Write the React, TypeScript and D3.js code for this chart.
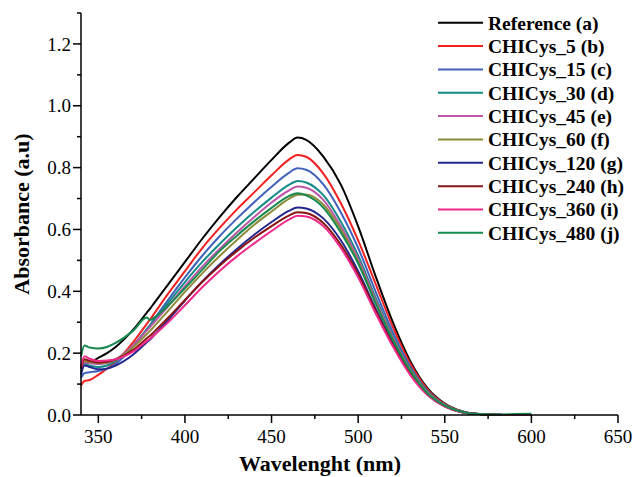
import React from "react";
import * as d3 from "d3";

const wavelengths = [340, 342, 345, 350, 355, 360, 370, 378, 380, 382, 390, 400, 410, 420, 430, 440, 450, 460, 465, 470, 480, 490, 500, 510, 520, 530, 540, 550, 560, 570, 580, 590, 600];

const seriesNames = ["Reference (a)", "CHICys_5 (b)", "CHICys_15 (c)", "CHICys_30 (d)", "CHICys_45 (e)", "CHICys_60 (f)", "CHICys_120 (g)", "CHICys_240 (h)", "CHICys_360 (i)", "CHICys_480 (j)"];
const seriesColors = ["#000000", "#f42020", "#4062bc", "#138a88", "#bd56a8", "#8c8a38", "#23268c", "#881414", "#f2288a", "#168a4e"];

const refA = [0.16, 0.17, 0.17, 0.185, 0.2, 0.22, 0.275, 0.331, 0.345, 0.36, 0.42, 0.495, 0.57, 0.64, 0.705, 0.765, 0.825, 0.88, 0.897, 0.89, 0.835, 0.745, 0.61, 0.45, 0.3, 0.175, 0.087, 0.037, 0.012, 0.003, 0.001, 0, 0];
const cys5 = [0.095, 0.11, 0.113, 0.13, 0.15, 0.172, 0.235, 0.295, 0.31, 0.326, 0.39, 0.465, 0.54, 0.605, 0.665, 0.72, 0.775, 0.826, 0.841, 0.835, 0.78, 0.685, 0.565, 0.425, 0.285, 0.167, 0.083, 0.035, 0.011, 0.003, 0.001, 0, 0];
const cys15 = [0.12, 0.135, 0.138, 0.142, 0.15, 0.165, 0.22, 0.278, 0.292, 0.308, 0.37, 0.445, 0.515, 0.578, 0.635, 0.688, 0.738, 0.783, 0.798, 0.793, 0.745, 0.655, 0.54, 0.4, 0.268, 0.157, 0.078, 0.033, 0.011, 0.003, 0.001, 0, 0];
const cys30 = [0.14, 0.165, 0.16, 0.155, 0.16, 0.175, 0.225, 0.277, 0.29, 0.304, 0.36, 0.43, 0.495, 0.553, 0.607, 0.657, 0.703, 0.744, 0.757, 0.752, 0.71, 0.625, 0.515, 0.38, 0.255, 0.15, 0.075, 0.032, 0.01, 0.003, 0.001, 0, 0];
const cys45 = [0.15, 0.17, 0.168, 0.165, 0.168, 0.18, 0.225, 0.273, 0.285, 0.298, 0.35, 0.417, 0.48, 0.537, 0.59, 0.64, 0.687, 0.726, 0.739, 0.735, 0.695, 0.61, 0.505, 0.372, 0.25, 0.147, 0.073, 0.031, 0.01, 0.003, 0.001, 0, 0];
const cys60 = [0.15, 0.175, 0.172, 0.168, 0.17, 0.18, 0.218, 0.262, 0.273, 0.285, 0.335, 0.398, 0.458, 0.514, 0.566, 0.615, 0.658, 0.699, 0.712, 0.713, 0.68, 0.6, 0.495, 0.365, 0.245, 0.145, 0.072, 0.031, 0.01, 0.003, 0.001, 0, 0];
const cys120 = [0.13, 0.16, 0.155, 0.148, 0.15, 0.16, 0.195, 0.235, 0.245, 0.257, 0.305, 0.37, 0.432, 0.487, 0.537, 0.583, 0.624, 0.66, 0.671, 0.668, 0.635, 0.565, 0.465, 0.345, 0.232, 0.137, 0.068, 0.029, 0.009, 0.003, 0.001, 0, 0];
const cys240 = [0.15, 0.18, 0.175, 0.17, 0.172, 0.18, 0.21, 0.248, 0.257, 0.268, 0.313, 0.372, 0.43, 0.483, 0.53, 0.573, 0.611, 0.645, 0.656, 0.653, 0.62, 0.55, 0.455, 0.338, 0.227, 0.134, 0.066, 0.028, 0.009, 0.003, 0.001, 0, 0];
const cys360 = [0.155, 0.19, 0.182, 0.175, 0.176, 0.18, 0.205, 0.239, 0.247, 0.257, 0.298, 0.355, 0.413, 0.466, 0.513, 0.555, 0.595, 0.632, 0.644, 0.642, 0.61, 0.54, 0.445, 0.33, 0.222, 0.13, 0.065, 0.027, 0.009, 0.003, 0.001, 0, 0];
const cys480 = [0.19, 0.225, 0.218, 0.215, 0.22, 0.233, 0.272, 0.315, 0.307, 0.314, 0.352, 0.41, 0.47, 0.53, 0.58, 0.627, 0.67, 0.708, 0.717, 0.71, 0.67, 0.59, 0.49, 0.362, 0.243, 0.143, 0.07, 0.03, 0.01, 0.003, 0.002, 0.003, 0.004];

const seriesValues = [refA, cys5, cys15, cys30, cys45, cys60, cys120, cys240, cys360, cys480];

const xMajorTicks = [350, 400, 450, 500, 550, 600, 650];
const xMinorTicks = [375, 425, 475, 525, 575, 625];
const yMajorTicks = [0, 0.2, 0.4, 0.6, 0.8, 1.0, 1.2];
const yMinorTicks = [0.1, 0.3, 0.5, 0.7, 0.9, 1.1, 1.3];

const FONT = "'Liberation Serif', 'Times New Roman', Times, serif";

export default function App() {
  const W = 633, H = 477;
  const x = d3.scaleLinear().domain([340, 650]).range([81, 618]);
  const y = d3.scaleLinear().domain([0, 1.3]).range([415, 13]);
  const line = d3
    .line<number>()
    .x((_, i) => x(wavelengths[i]))
    .y((d) => y(d))
    .curve(d3.curveMonotoneX);

  const legendX = 438;
  const legendY0 = 22.7;
  const legendDy = 23.35;

  return (
    <svg width={W} height={H} style={{ position: "absolute", left: 0, top: 0, background: "#fff" }} fontFamily={FONT}>
      <rect x={0} y={0} width={W} height={H} fill="#fff" />
      {seriesValues.map((vals, k) => (
        <path key={k} d={line(vals) || ""} fill="none" stroke={seriesColors[k]} strokeWidth={2} strokeLinejoin="round" />
      ))}
      <line x1={x(340)} x2={x(650)} y1={y(0)} y2={y(0)} stroke="#000" strokeWidth={1.5} />
      <line x1={x(340)} x2={x(340)} y1={y(0)} y2={y(1.3)} stroke="#000" strokeWidth={1.5} />
      {xMajorTicks.map((t) => (
        <g key={"xm" + t}>
          <line x1={x(t)} x2={x(t)} y1={y(0)} y2={y(0) + 8} stroke="#000" strokeWidth={1.5} />
          <text x={x(t)} y={y(0) + 28} textAnchor="middle" fontSize={19}>{t}</text>
        </g>
      ))}
      {xMinorTicks.map((t) => (
        <line key={"xn" + t} x1={x(t)} x2={x(t)} y1={y(0)} y2={y(0) + 4} stroke="#000" strokeWidth={1.5} />
      ))}
      {yMajorTicks.map((t) => (
        <g key={"ym" + t}>
          <line x1={x(340) - 8} x2={x(340)} y1={y(t)} y2={y(t)} stroke="#000" strokeWidth={1.5} />
          <text x={x(340) - 10} y={y(t)} dy="0.35em" textAnchor="end" fontSize={19}>{t.toFixed(1)}</text>
        </g>
      ))}
      {yMinorTicks.map((t) => (
        <line key={"yn" + t} x1={x(340) - 4} x2={x(340)} y1={y(t)} y2={y(t)} stroke="#000" strokeWidth={1.5} />
      ))}
      <text x={320} y={471} textAnchor="middle" fontSize={22} fontWeight="bold">Wavelenght (nm)</text>
      <text transform={`translate(29,${(y(0) + y(1.3)) / 2}) rotate(-90)`} textAnchor="middle" fontSize={22} fontWeight="bold">Absorbance (a.u)</text>
      {seriesNames.map((n, k) => (
        <g key={"lg" + k}>
          <line x1={legendX} x2={legendX + 45} y1={legendY0 + k * legendDy} y2={legendY0 + k * legendDy} stroke={seriesColors[k]} strokeWidth={2} />
          <text x={legendX + 50} y={legendY0 + k * legendDy} dy="0.35em" fontSize={19.5} fontWeight="bold">{n}</text>
        </g>
      ))}
    </svg>
  );
}
